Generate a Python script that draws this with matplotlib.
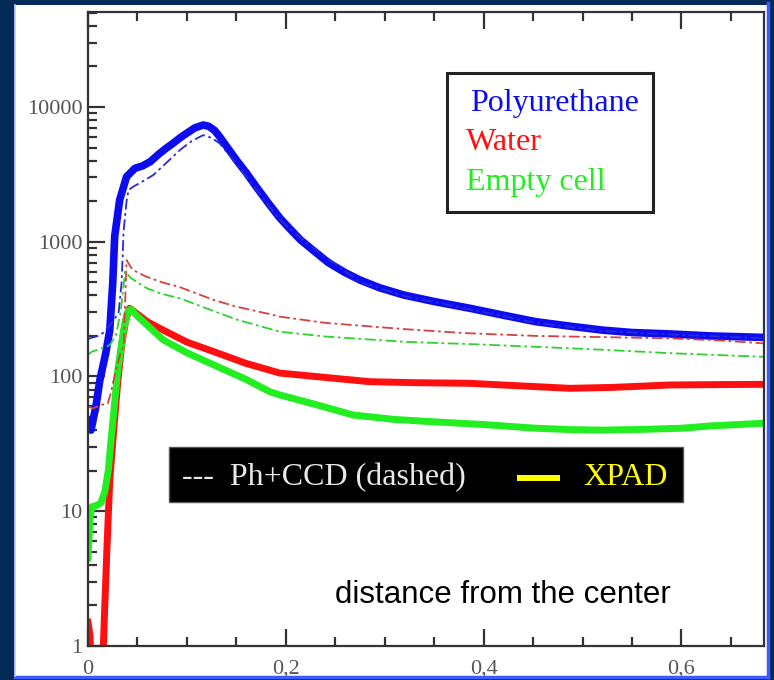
import numpy as np
import matplotlib
matplotlib.use("Agg")
import matplotlib.pyplot as plt
from matplotlib.patches import Rectangle
from matplotlib.lines import Line2D
from matplotlib.ticker import MultipleLocator, FixedLocator, LogLocator, NullFormatter

W, H = 774, 680

# XPAD (solid, thick)
polyXpadX = [0, 0.003, 0.008, 0.012, 0.018, 0.022, 0.025, 0.027, 0.032, 0.039, 0.0475, 0.055, 0.063,
             0.072, 0.080, 0.086, 0.093, 0.100, 0.108, 0.1165, 0.122, 0.128, 0.133, 0.141, 0.150, 0.160,
             0.170, 0.182, 0.194, 0.204, 0.215, 0.228, 0.243, 0.26, 0.275, 0.295, 0.319, 0.35, 0.386, 0.42,
             0.453, 0.49, 0.52, 0.55, 0.588, 0.63, 0.6835]
polyXpadY = [45, 40, 60, 94, 150, 220, 490, 1100, 2040, 3040, 3510, 3650, 3930,
             4500, 5000, 5380, 5900, 6400, 7000, 7350, 7200, 6700, 6030, 5000, 4040, 3250,
             2565, 1950, 1500, 1250, 1030, 860, 700, 590, 520, 455, 403, 360, 321, 285,
             255, 235, 221, 212, 207, 200, 195]

waterXpadX = [0, 0.002, 0.004, 0.014, 0.0155, 0.017, 0.019, 0.022, 0.026, 0.030, 0.034, 0.038, 0.042,
              0.050, 0.060, 0.076, 0.10, 0.127, 0.16, 0.194, 0.23, 0.285, 0.33, 0.386, 0.44, 0.487,
              0.53, 0.588, 0.63, 0.6835]
waterXpadY = [1.5, 1.2, 0.5, 0.5, 1.0, 2, 5, 17, 40, 90, 170, 260, 321,
              290, 255, 221, 180, 153, 125, 106, 100, 91.5, 90, 89, 85, 81.7,
              83, 86.5, 87, 87.5]

emptyXpadX = [0, 0.002, 0.004, 0.008, 0.013, 0.017, 0.0205, 0.023, 0.026, 0.030, 0.036, 0.040, 0.043,
              0.050, 0.060, 0.076, 0.10, 0.127, 0.16, 0.184, 0.194, 0.23, 0.268, 0.31, 0.352, 0.40,
              0.453, 0.49, 0.521, 0.56, 0.60, 0.63, 0.6835]
emptyXpadY = [4.5, 9, 10.8, 11, 11.5, 14, 20, 32, 54, 110, 221, 300, 316,
              280, 240, 187, 150, 122, 95, 77, 73, 62, 51.8, 48, 46, 44,
              41.3, 40.3, 40, 40.5, 41.3, 43, 45]

# Ph+CCD (dashed, thin)
polyCcdX = [0, 0.005, 0.010, 0.015, 0.020, 0.026, 0.031, 0.034, 0.036, 0.039, 0.041, 0.046, 0.055,
            0.066, 0.080, 0.093, 0.105, 0.1165, 0.125, 0.133, 0.150, 0.17, 0.194, 0.22, 0.275, 0.32,
            0.386, 0.453, 0.52, 0.588, 0.6835]
polyCcdY = [190, 195, 200, 210, 230, 260, 300, 500, 1200, 2000, 2420, 2570, 2800,
            3125, 3900, 4800, 5600, 6180, 5900, 5380, 3800, 2450, 1450, 1000, 500, 395,
            315, 250, 218, 205, 192]

waterCcdX = [0, 0.005, 0.010, 0.015, 0.020, 0.023, 0.028, 0.033, 0.036, 0.039, 0.045, 0.059, 0.075,
             0.093, 0.127, 0.15, 0.184, 0.194, 0.24, 0.319, 0.38, 0.454, 0.52, 0.588, 0.64, 0.6835]
waterCcdY = [60, 58, 60, 62, 63, 75, 110, 150, 166, 730, 620, 550, 500,
             460, 370, 330, 290, 278, 250, 225, 210, 200, 196, 192, 185, 176]

emptyCcdX = [0, 0.004, 0.012, 0.022, 0.028, 0.033, 0.0375, 0.043, 0.049, 0.06, 0.075, 0.093, 0.12,
             0.15, 0.194, 0.24, 0.319, 0.386, 0.454, 0.52, 0.588, 0.64, 0.6835]
emptyCcdY = [145, 153, 160, 171, 200, 300, 600, 540, 505, 450, 410, 380, 320,
             265, 215, 198, 181, 174, 166, 158, 149, 144, 140]

xTicks = [0, 0.2, 0.4, 0.6]
xTickLabels = ["0", "0,2", "0,4", "0,6"]
yTicks = [1, 10, 100, 1000, 10000]
yTickLabels = ["1", "10", "100", "1000", "10000"]
names = ["Polyurethane", "Water", "Empty cell"]

BLUE = "#0c0cee"
RED = "#ff1010"
GREEN = "#22ee22"
SERIF = ["Liberation Serif", "DejaVu Serif"]


def fx(x):
    return x / W


def fy(y):
    return 1 - y / H


fig = plt.figure(figsize=(W / 100, H / 100), dpi=100, facecolor="#042b58")

# white slide panel with thin blue edges
fig.add_artist(Rectangle((fx(15), fy(676)), fx(752), 671 / H, transform=fig.transFigure,
                         facecolor="white", edgecolor="none", zorder=0))
fig.add_artist(Line2D([fx(15), fx(768)], [fy(677), fy(677)], transform=fig.transFigure,
                      color="#3a5cff", lw=2.5, zorder=1))
fig.add_artist(Line2D([fx(767.5), fx(767.5)], [fy(3), fy(677)], transform=fig.transFigure,
                      color="#3a5cff", lw=2.5, zorder=1))
fig.add_artist(Line2D([fx(15.5), fx(15.5)], [fy(5), fy(676)], transform=fig.transFigure,
                      color="#c8c8ff", lw=1.2, zorder=1))

ax = fig.add_axes([fx(88), fy(646), (764 - 88) / W, (646 - 12) / H])
ax.set_facecolor("none")

# XPAD first, Ph+CCD on top
ax.plot(polyXpadX, polyXpadY, color=BLUE, lw=5.5, solid_joinstyle="round")
ax.plot(waterXpadX, waterXpadY, color=RED, lw=5, solid_joinstyle="round")
ax.plot(emptyXpadX, emptyXpadY, color=GREEN, lw=5, solid_joinstyle="round")
dashStyle = (0, (6, 2, 1.5, 2))
ax.plot(polyCcdX, polyCcdY, color="#2a2ad8", lw=1.3, ls=dashStyle)
ax.plot(waterCcdX, waterCcdY, color="#d84040", lw=1.3, ls=dashStyle)
ax.plot(emptyCcdX, emptyCcdY, color="#30d030", lw=1.3, ls=dashStyle)

ax.set_yscale("log")
ax.set_xlim(0, 0.6835)
ax.set_ylim(1, 50700)

ax.xaxis.set_major_locator(FixedLocator(xTicks))
ax.set_xticklabels(xTickLabels)
ax.xaxis.set_minor_locator(MultipleLocator(0.05))
ax.yaxis.set_major_locator(FixedLocator(yTicks))
ax.set_yticklabels(yTickLabels)
ax.yaxis.set_minor_locator(LogLocator(base=10, subs=np.arange(2, 10)))
ax.yaxis.set_minor_formatter(NullFormatter())

ax.tick_params(which="both", direction="in", top=True, right=False, color="#333333", width=1.6)
ax.tick_params(which="major", length=12)
ax.tick_params(which="minor", length=6.5)
ax.tick_params(axis="x", pad=10)
ax.tick_params(axis="y", pad=4)
for lab in ax.get_xticklabels() + ax.get_yticklabels():
    lab.set_family(SERIF)
    lab.set_fontsize(16)
    lab.set_color("#555555")
for s in ax.spines.values():
    s.set_color("#333333")
    s.set_linewidth(1.6)

# name box
fig.add_artist(Rectangle((fx(447), fy(211.5)), (652.5 - 447) / W, (211.5 - 72.5) / H,
                         transform=fig.transFigure, facecolor="white", edgecolor="#222222",
                         lw=2.2, zorder=5))
fig.text(fx(470), fy(111.5), names[0], color=BLUE, family=SERIF, fontsize=23, va="baseline", zorder=6)
fig.text(fx(466), fy(150.5), names[1], color=RED, family=SERIF, fontsize=23, va="baseline", zorder=6)
fig.text(fx(466), fy(190), names[2], color=GREEN, family=SERIF, fontsize=23, va="baseline", zorder=6)

# detector box
fig.add_artist(Rectangle((fx(169), fy(502)), (683 - 169) / W, (502 - 447) / H,
                         transform=fig.transFigure, facecolor="black", edgecolor="#555555",
                         lw=1, zorder=5))
fig.text(fx(182), fy(485), "---  Ph+CCD (dashed)", color="#e8e8e8", family=SERIF, fontsize=23,
         va="baseline", zorder=6)
fig.add_artist(Line2D([fx(517), fx(560)], [fy(478), fy(478)], transform=fig.transFigure,
                      color="#ffff00", lw=4.3, solid_capstyle="butt", zorder=6))
fig.text(fx(583), fy(485), "XPAD", color="#ffff00", family=SERIF, fontsize=23, va="baseline", zorder=6)

fig.text(fx(335), fy(603), "distance from the center", color="black",
         family=["Liberation Sans", "DejaVu Sans"], fontsize=22.5, va="baseline", zorder=6)

fig.savefig("out.png", dpi=100, facecolor=fig.get_facecolor())
